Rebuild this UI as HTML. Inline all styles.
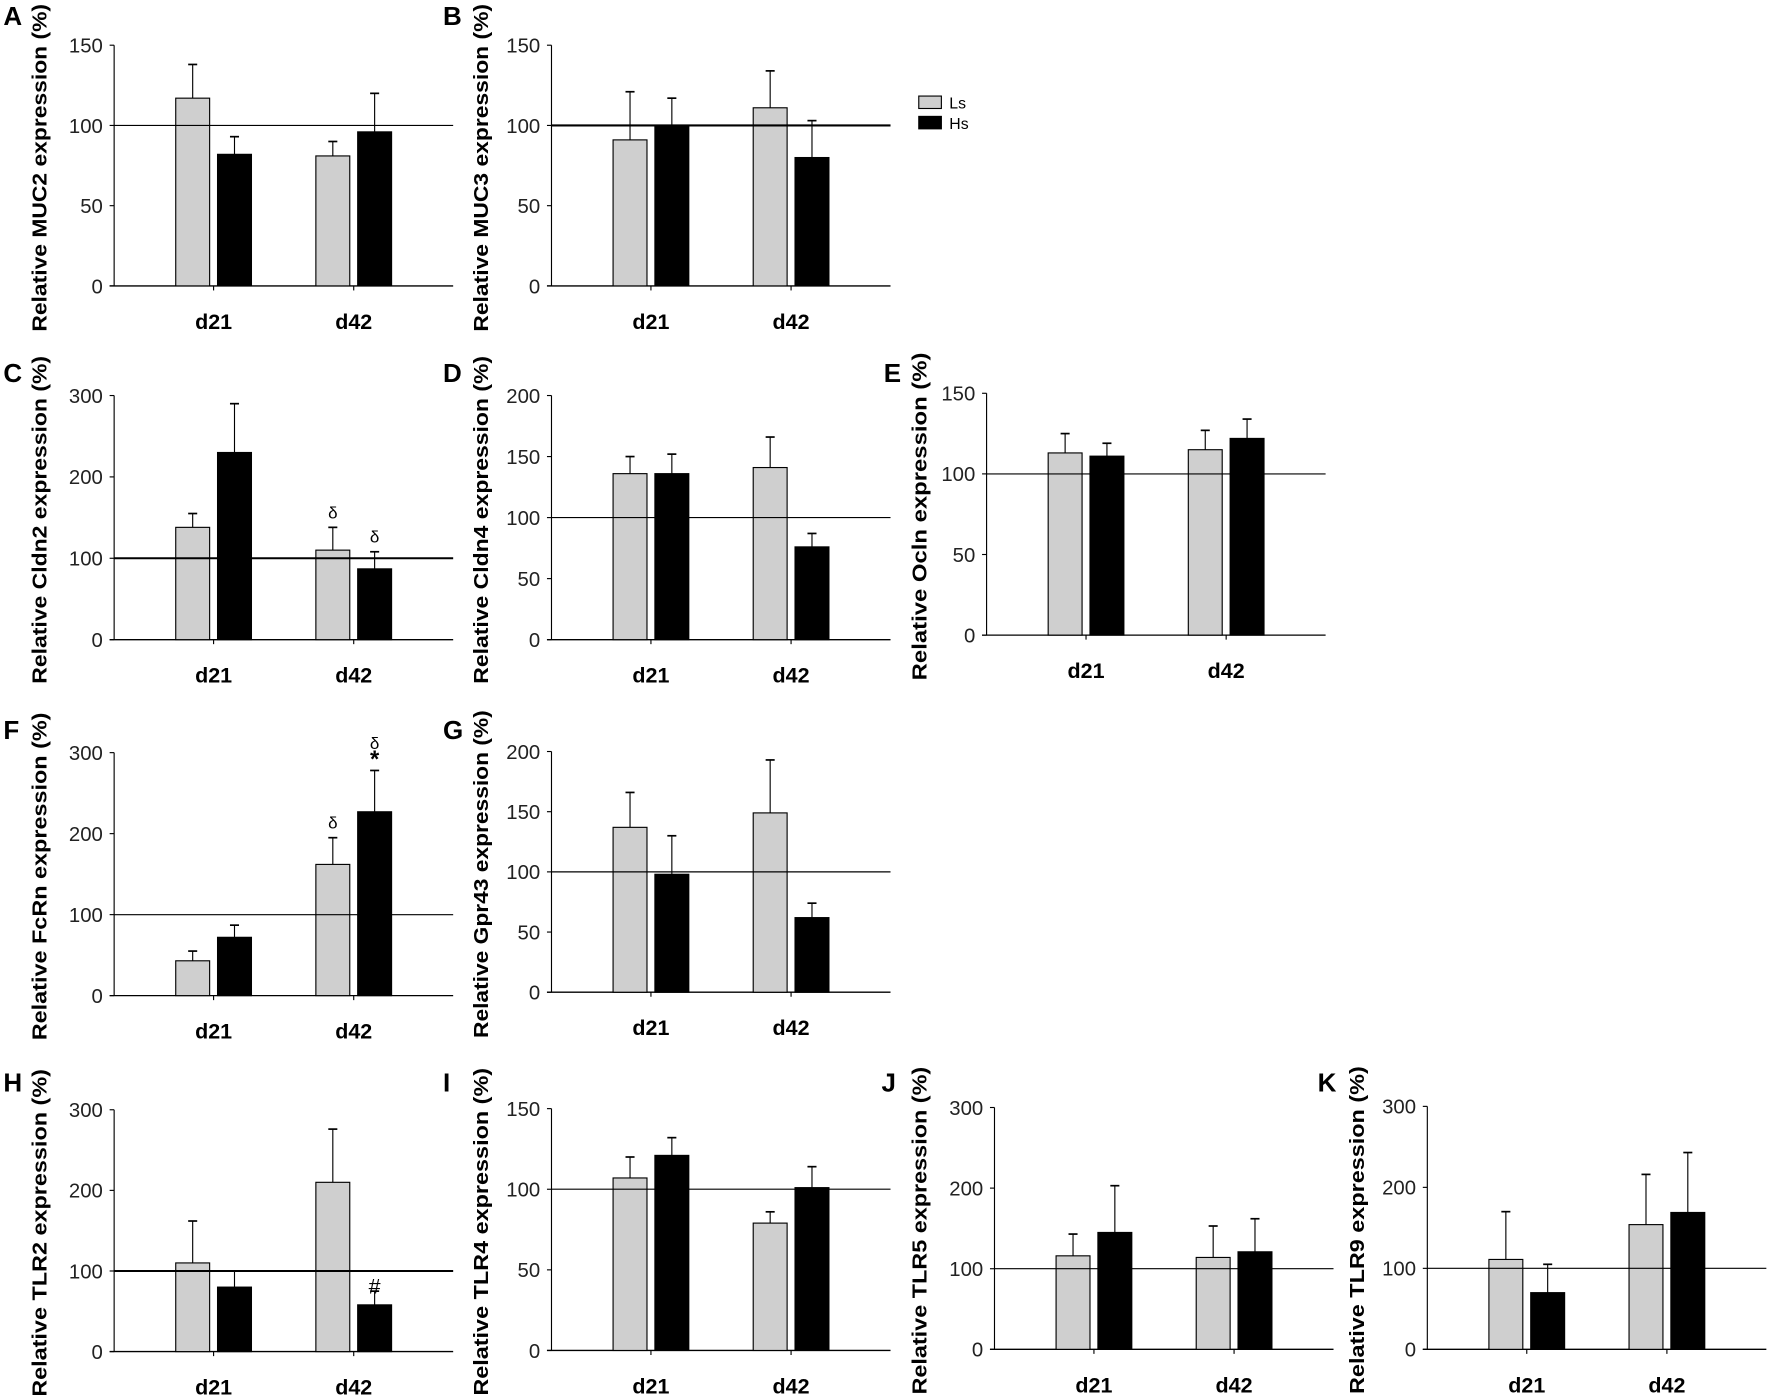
<!DOCTYPE html>
<html><head><meta charset="utf-8"><style>
html,body{margin:0;padding:0;background:#fff;}
svg{display:block;font-family:"Liberation Sans",Arial,sans-serif;}
</style></head><body>
<svg id="s" width="1772" height="1395" viewBox="0 0 1568 1234.4" preserveAspectRatio="none" xmlns="http://www.w3.org/2000/svg"></svg>
<script>
var P=[
 {L:"A",lx:3,ly:22,x0:101,top:40,bot:253,max:150,step:50,lab:"Relative MUC2 expression (%)",lbx:34,d:[[117,138],[82,93],[81,90],[96,120]]},
 {L:"B",lx:392,ly:22,x0:488,top:40,bot:253,max:150,step:50,lab:"Relative MUC3 expression (%)",lbx:425,d:[[91,121],[100,117],[111,134],[80,103]],thick:1},
 {L:"C",lx:3,ly:338,x0:101,top:350,bot:566,max:300,step:100,lab:"Relative Cldn2 expression (%)",lbx:34,d:[[138,155],[230,290],[110,138,"δ"],[87,108,"δ"]],thick:1},
 {L:"D",lx:392,ly:338,x0:488,top:350,bot:566,max:200,step:50,lab:"Relative Cldn4 expression (%)",lbx:425,d:[[136,150],[136,152],[141,166],[76,87]]},
 {L:"E",lx:782,ly:338,x0:873,top:348,bot:562,max:150,step:50,lab:"Relative Ocln expression (%)",lbx:813,d:[[113,125],[111,119],[115,127],[122,134]]},
 {L:"F",lx:3,ly:654,x0:101,top:666,bot:881,max:300,step:100,lab:"Relative FcRn expression (%)",lbx:34,d:[[43,55],[72,87],[162,195,"δ"],[227,278,"δ*"]]},
 {L:"G",lx:392,ly:654,x0:488,top:665,bot:878,max:200,step:50,lab:"Relative Gpr43 expression (%)",lbx:425,d:[[137,166],[98,130],[149,193],[62,74]]},
 {L:"H",lx:3,ly:966,x0:101,top:982,bot:1196,max:300,step:100,lab:"Relative TLR2 expression (%)",lbx:34,d:[[110,162],[80,100],[210,276],[58,75,"#"]],thick:1},
 {L:"I",lx:392,ly:966,x0:488,top:981,bot:1195,max:150,step:50,lab:"Relative TLR4 expression (%)",lbx:425,d:[[107,120],[121,132],[79,86],[101,114]]},
 {L:"J",lx:780,ly:966,x0:880,top:980,bot:1194,max:300,step:100,lab:"Relative TLR5 expression (%)",lbx:813,d:[[116,143],[145,203],[114,153],[121,162]]},
 {L:"K",lx:1166,ly:966,x0:1263,top:979,bot:1194,max:300,step:100,lab:"Relative TLR9 expression (%)",lbx:1200,d:[[111,170],[70,105],[154,216],[169,243]]}
];
var o='';
P.forEach(function(p){
 var x0=p.x0,x1=x0+300,H=p.bot-p.top;
 function Y(v){return p.bot-v/p.max*H;}
 o+='<text x="'+p.lx+'" y="'+p.ly+'" font-size="23" font-weight="bold">'+p.L+'</text>';
 var cy=(p.top+p.bot)/2+2;
 o+='<text transform="translate('+(p.lbx+7)+','+cy+') rotate(-90)" text-anchor="middle" font-size="18" font-weight="bold" textLength="290" lengthAdjust="spacingAndGlyphs">'+p.lab+'</text>';
 o+='<line x1="'+x0+'" y1="'+p.top+'" x2="'+x0+'" y2="'+p.bot+'" stroke="#000" stroke-width="1"/>';
 o+='<line x1="'+(x0-4)+'" y1="'+p.bot+'" x2="'+x1+'" y2="'+p.bot+'" stroke="#000" stroke-width="1.2"/>';
 for(var v=0;v<=p.max;v+=p.step){
  var y=Y(v);
  o+='<line x1="'+(x0-4)+'" y1="'+y+'" x2="'+x0+'" y2="'+y+'" stroke="#000"/>';
  o+='<text x="'+(x0-10)+'" y="'+(y+6.5)+'" text-anchor="end" font-size="18" fill="#222">'+v+'</text>';
 }
 var t=[x0+88,x0+212];
 ["d21","d42"].forEach(function(s,i){
  o+='<line x1="'+t[i]+'" y1="'+p.bot+'" x2="'+t[i]+'" y2="'+(p.bot+4)+'" stroke="#000"/>';
  o+='<text x="'+t[i]+'" y="'+(p.bot+38)+'" text-anchor="middle" font-size="19" font-weight="bold">'+s+'</text>';
 });
 p.d.forEach(function(b,i){
  var c=t[i>>1]+(i%2?18.5:-18.5), xl=c-15;
  var yt=Y(b[0]), ye=Y(b[1]);
  o+='<line x1="'+c+'" y1="'+yt+'" x2="'+c+'" y2="'+ye+'" stroke="#000"/>';
  o+='<line x1="'+(c-4)+'" y1="'+ye+'" x2="'+(c+4)+'" y2="'+ye+'" stroke="#000" stroke-width="1.5"/>';
  o+='<rect x="'+xl+'" y="'+yt+'" width="30" height="'+(p.bot-yt)+'" fill="'+(i%2?'#000':'#cfcfcf')+'" stroke="#000" stroke-width="1"/>';
  if(b[2]){
   if(b[2]=="δ") o+='<text x="'+c+'" y="'+(ye-8)+'" text-anchor="middle" font-size="15">δ</text>';
   else if(b[2]=="#") o+='<text x="'+c+'" y="'+(ye+2)+'" text-anchor="middle" font-size="19">#</text>';
   else {o+='<text x="'+c+'" y="'+(ye-3)+'" text-anchor="middle" font-size="21" font-weight="bold">*</text>';
         o+='<text x="'+c+'" y="'+(ye-19)+'" text-anchor="middle" font-size="15">δ</text>';}
  }
 });
 var y1=Y(100);
 o+='<line x1="'+x0+'" y1="'+y1+'" x2="'+x1+'" y2="'+y1+'" stroke="#000" stroke-width="'+(p.thick?1.8:1)+'"/>';
});
o+='<rect x="813" y="85" width="20" height="11" fill="#cfcfcf" stroke="#000"/><text x="840" y="96" font-size="14">Ls</text>';
o+='<rect x="813" y="103" width="20" height="11" fill="#000" stroke="#000"/><text x="840" y="114" font-size="14">Hs</text>';
document.getElementById('s').innerHTML=o;
</script>
</body></html>
